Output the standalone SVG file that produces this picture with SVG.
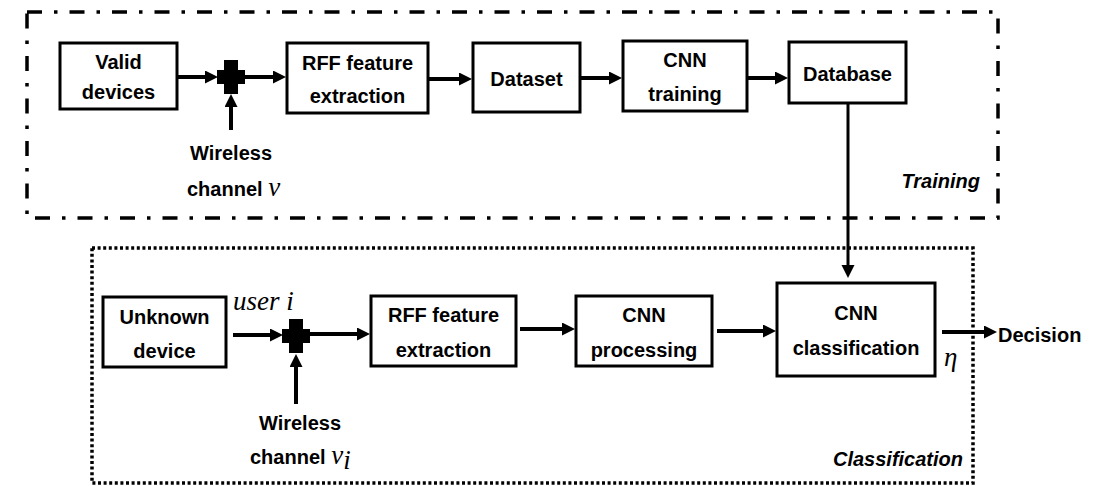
<svg xmlns="http://www.w3.org/2000/svg" width="1109" height="486" viewBox="0 0 1109 486">
  <style>
    .box { fill: #fff; stroke: #000; stroke-width: 3; }
    .sans { font-family: "Liberation Sans", Arial, sans-serif; font-weight: bold; font-size: 20px; fill: #000; }
    .lbl { font-family: "Liberation Sans", Arial, sans-serif; font-weight: bold; font-size: 20px; fill: #000; text-anchor: middle; }
    .tag { font-family: "Liberation Sans", Arial, sans-serif; font-weight: bold; font-style: italic; font-size: 20px; fill: #000; text-anchor: end; }
    .math { font-family: "Liberation Serif", "Times New Roman", serif; font-style: italic; font-size: 27px; fill: #000; }
    .arr { fill: none; stroke: #000; stroke-width: 4; marker-end: url(#head); }
    .link { fill: none; stroke: #000; stroke-width: 3; marker-end: url(#head); }
  </style>
  <defs>
    <marker id="head" markerUnits="userSpaceOnUse" markerWidth="14" markerHeight="14" refX="6" refY="6.5" orient="auto">
      <path d="M0,0 L13,6.5 L0,13 z" fill="#000"/>
    </marker>
    <!-- summing junction: a bold plus sign -->
    <g id="plus">
      <rect x="-14" y="-7" width="28" height="14" fill="#000"/>
      <rect x="-7" y="-17" width="14" height="34" fill="#000"/>
    </g>
  </defs>

  <!-- stage frames -->
  <g id="frame-training">
    <rect x="27" y="12" width="971" height="206" fill="none" stroke="#000" stroke-width="3.5" stroke-dasharray="15 12 3.5 12"/>
    <text class="tag" x="980" y="188">Training</text>
  </g>
  <g id="frame-classification">
    <rect x="92" y="248" width="881" height="235" fill="none" stroke="#000" stroke-width="3.5" stroke-dasharray="3 2.6"/>
    <text class="tag" x="963" y="466">Classification</text>
  </g>

  <!-- training chain -->
  <g id="valid-devices">
    <rect class="box" x="60" y="43" width="117" height="66"/>
    <text class="lbl" x="118.5" y="69">Valid</text>
    <text class="lbl" x="118.5" y="99">devices</text>
  </g>
  <g id="sum-training">
    <use href="#plus" x="231" y="77"/>
  </g>
  <g id="wireless-v">
    <text class="lbl" x="231" y="160">Wireless</text>
    <text x="187" y="196"><tspan class="sans">channel </tspan><tspan class="math">v</tspan></text>
  </g>
  <g id="rff-training">
    <rect class="box" x="287" y="43" width="141" height="70"/>
    <text class="lbl" x="357.5" y="70">RFF feature</text>
    <text class="lbl" x="357.5" y="103">extraction</text>
  </g>
  <g id="dataset">
    <rect class="box" x="473" y="43" width="107" height="69"/>
    <text class="lbl" x="526.5" y="86">Dataset</text>
  </g>
  <g id="cnn-training">
    <rect class="box" x="623" y="41" width="124" height="70"/>
    <text class="lbl" x="685" y="67">CNN</text>
    <text class="lbl" x="685" y="101">training</text>
  </g>
  <g id="database">
    <rect class="box" x="789" y="42" width="117" height="61"/>
    <text class="lbl" x="847.5" y="81">Database</text>
  </g>

  <!-- classification chain -->
  <g id="unknown-device">
    <rect class="box" x="103" y="297" width="123" height="70"/>
    <text class="lbl" x="164.5" y="324">Unknown</text>
    <text class="lbl" x="164.5" y="358">device</text>
  </g>
  <text class="math" x="233" y="310">user i</text>
  <g id="sum-classification">
    <use href="#plus" x="296" y="336"/>
  </g>
  <g id="wireless-vi">
    <text class="lbl" x="300" y="430">Wireless</text>
    <text x="250" y="464"><tspan class="sans">channel </tspan><tspan class="math">v</tspan><tspan class="math" font-size="19" dy="5">i</tspan></text>
  </g>
  <g id="rff-classification">
    <rect class="box" x="371" y="296" width="145" height="70"/>
    <text class="lbl" x="443.5" y="322">RFF feature</text>
    <text class="lbl" x="443.5" y="357">extraction</text>
  </g>
  <g id="cnn-processing">
    <rect class="box" x="576" y="296" width="136" height="70"/>
    <text class="lbl" x="644" y="322">CNN</text>
    <text class="lbl" x="644" y="357">processing</text>
  </g>
  <g id="cnn-classification">
    <rect class="box" x="777" y="283" width="158" height="93"/>
    <text class="lbl" x="856" y="320">CNN</text>
    <text class="lbl" x="856" y="355">classification</text>
  </g>
  <text class="math" x="944" y="366">η</text>
  <g id="decision">
    <text class="sans" x="998" y="342">Decision</text>
  </g>

  <!-- connectors -->
  <g id="connectors">
    <line class="arr" x1="177" y1="77" x2="211" y2="77"/>
    <line class="arr" x1="245" y1="77" x2="279" y2="77"/>
    <line class="arr" x1="231" y1="130" x2="231" y2="101"/>
    <line class="arr" x1="428" y1="79" x2="465" y2="79"/>
    <line class="arr" x1="580" y1="78" x2="615" y2="78"/>
    <line class="arr" x1="747" y1="78" x2="781" y2="78"/>
    <line class="link" x1="848" y1="103" x2="848" y2="271"/>

    <line class="arr" x1="233" y1="335" x2="276" y2="335"/>
    <line class="arr" x1="310" y1="334" x2="363" y2="334"/>
    <line class="arr" x1="296" y1="404" x2="296" y2="361"/>
    <line class="arr" x1="520" y1="329" x2="568" y2="329"/>
    <line class="arr" x1="717" y1="331" x2="769" y2="331"/>
    <line class="arr" x1="942" y1="332" x2="990" y2="332"/>
  </g>
</svg>
